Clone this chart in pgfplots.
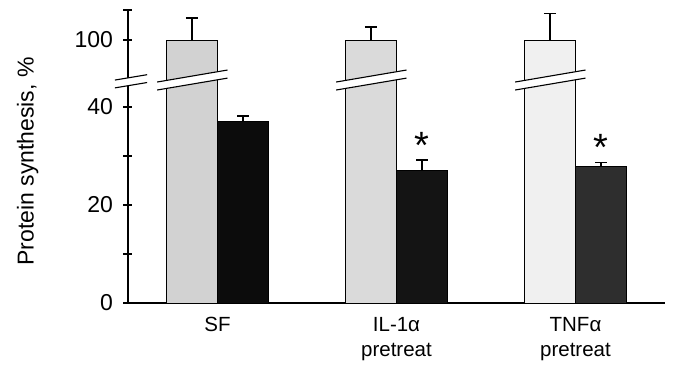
\documentclass[border=0pt]{standalone}
\usepackage{fontspec}
\setmainfont{Liberation Sans}
\usepackage{pgfplots}
\pgfplotsset{compat=1.18}
\definecolor{g1}{HTML}{D2D2D2}
\definecolor{g2}{HTML}{DADADA}
\definecolor{g3}{HTML}{F0F0F0}
\definecolor{k1}{HTML}{0C0C0C}
\definecolor{k2}{HTML}{141414}
\definecolor{k3}{HTML}{2E2E2E}
\begin{document}
\begin{tikzpicture}
\begin{axis}[
  scale only axis, width=537pt, height=293pt,
  xmin=-0.5, xmax=2.5, ymin=0, ymax=59.8,
  axis x line*=bottom, axis y line*=left,
  axis line style={line width=1.3pt, -},
  clip=false,
  ybar, bar width=0.287,
  xtick={0,1,2},
  xticklabels={SF, {IL-1α\\pretreat}, {TNFα\\pretreat}},
  xticklabel style={align=center, font=\fontsize{20.5}{25}\selectfont, yshift=-6pt},
  x tick style={draw=none},
  extra x ticks={-0.5,0.5,1.5,2.5},
  extra x tick labels={},
  extra x tick style={major tick length=12pt, tick style={line width=1.3pt, black}, tick align=center},
  ytick={0,10,20,30,40,53.67,59.8},
  yticklabels={0,,20,,40,100,},
  yticklabel style={font=\fontsize{23}{26}\selectfont, xshift=-7pt},
  /pgf/number format/assume math mode=true,
  y tick style={line width=1.3pt, black},
  tick align=center, major tick length=9pt,
  ylabel={Protein synthesis, \%},
  ylabel style={at={(axis description cs:-0.187,0.483)}, anchor=center, font=\fontsize{23}{26}\selectfont},
  error bars/y dir=plus, error bars/y explicit,
  error bars/error bar style={line width=1.6pt, black},
  error bars/error mark options={line width=1.6pt, black, mark size=6pt, rotate=90},
]
% gray bars: 100 % drawn above the axis break (plotted position 53.67 = 100)
\addplot[fill=g1, draw=black, line width=0.9pt, bar shift=-0.1435] coordinates {(0,53.67) +- (0,4.5)};
\addplot[fill=g2, draw=black, line width=0.9pt, bar shift=-0.1435] coordinates {(1,53.67) +- (0,2.6)};
\addplot[fill=g3, draw=black, line width=0.9pt, bar shift=-0.1435] coordinates {(2,53.67) +- (0,5.4)};
% dark bars
\addplot[fill=k1, draw=black, line width=0.9pt, bar shift=0.1435] coordinates {(0,37.0) +- (0,1.2)};
\addplot[fill=k2, draw=black, line width=0.9pt, bar shift=0.1435] coordinates {(1,27.0) +- (0,2.2)};
\addplot[fill=k3, draw=black, line width=0.9pt, bar shift=0.1435] coordinates {(2,27.8) +- (0,0.9)};
% axis break
\fill[white] (axis cs:-0.573,43.9) -- (axis cs:-0.393,45.0) -- (axis cs:-0.393,46.6) -- (axis cs:-0.573,45.5) -- cycle;
\draw[line width=1.1pt] (axis cs:-0.573,43.9) -- (axis cs:-0.393,45.0);
\draw[line width=1.1pt] (axis cs:-0.573,45.5) -- (axis cs:-0.393,46.6);
% bar breaks
\fill[white] (axis cs:-0.337,43.47) -- (axis cs:0.056,45.9) -- (axis cs:0.056,47.55) -- (axis cs:-0.337,45.1) -- cycle;
\draw[line width=1.1pt] (axis cs:-0.337,43.47) -- (axis cs:0.056,45.9);
\draw[line width=1.1pt] (axis cs:-0.337,45.1) -- (axis cs:0.056,47.55);
\fill[white] (axis cs:0.663,43.47) -- (axis cs:1.056,45.9) -- (axis cs:1.056,47.55) -- (axis cs:0.663,45.1) -- cycle;
\draw[line width=1.1pt] (axis cs:0.663,43.47) -- (axis cs:1.056,45.9);
\draw[line width=1.1pt] (axis cs:0.663,45.1) -- (axis cs:1.056,47.55);
\fill[white] (axis cs:1.663,43.47) -- (axis cs:2.056,45.9) -- (axis cs:2.056,47.55) -- (axis cs:1.663,45.1) -- cycle;
\draw[line width=1.1pt] (axis cs:1.663,43.47) -- (axis cs:2.056,45.9);
\draw[line width=1.1pt] (axis cs:1.663,45.1) -- (axis cs:2.056,47.55);
% significance marks
\node[anchor=base, font=\fontsize{38}{40}\selectfont, inner sep=0pt] at (axis cs:1.143,29.4) {*};
\node[anchor=base, font=\fontsize{38}{40}\selectfont, inner sep=0pt] at (axis cs:2.143,29.0) {*};
\coordinate (sw) at (rel axis cs:0,0);
\end{axis}
\pgfresetboundingbox
\path[use as bounding box] ([shift={(-128pt,-71pt)}]sw) rectangle ([shift={(550pt,303pt)}]sw);
\end{tikzpicture}
\end{document}
